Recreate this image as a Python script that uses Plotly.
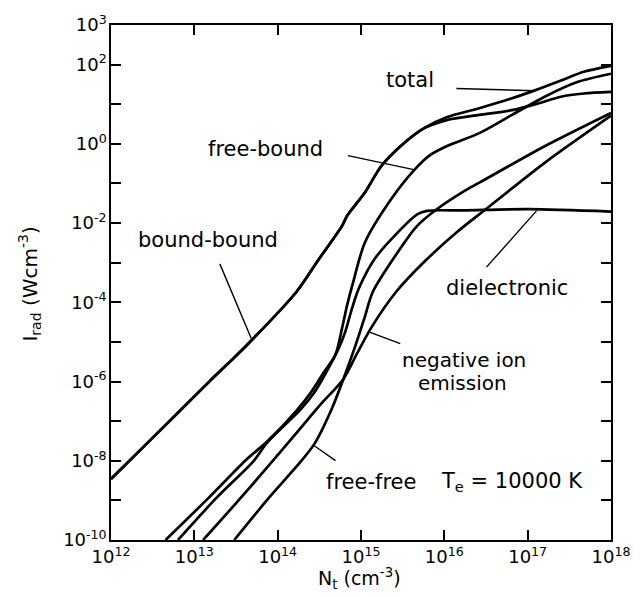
import numpy as np
import plotly.graph_objects as go

# ---- data (log10 values) ----
# bound-bound and total coincide at low density
bb_logn = [12.0, 12.341, 13.185, 13.635, 14.224, 14.498, 14.773, 14.832, 15.047, 15.244, 15.518, 15.753,
           16.027, 16.42, 16.812, 17.126, 17.4, 17.674, 18.0]
bb_logi = [-8.46, -7.75, -5.99, -5.07, -3.74, -2.90, -2.07, -1.82, -1.23, -0.56, 0.02, 0.39,
           0.60, 0.73, 0.85, 1.02, 1.19, 1.27, 1.31]

total_logn = [12.0, 12.341, 13.185, 13.635, 14.224, 14.498, 14.773, 14.832, 15.047, 15.244, 15.518, 15.753,
              16.027, 16.42, 16.812, 17.086, 17.4, 17.674, 18.0]
total_logi = [-8.46, -7.75, -5.99, -5.07, -3.74, -2.90, -2.07, -1.82, -1.23, -0.56, 0.02, 0.39,
              0.67, 0.90, 1.15, 1.35, 1.60, 1.82, 1.97]

fb_logn = [12.655, 13.165, 13.635, 13.871, 14.224, 14.4, 14.553, 14.694, 14.776, 14.835, 14.906, 15.047,
           15.361, 15.635, 15.832, 16.027, 16.42, 16.812, 17.204, 17.596, 18.0]
fb_logi = [-10.0, -8.95, -7.95, -7.52, -6.74, -6.27, -5.77, -5.32, -4.62, -4.06, -3.49, -2.49,
           -1.40, -0.67, -0.28, -0.06, 0.27, 0.73, 1.19, 1.56, 1.77]

diel_logn = [12.804, 13.282, 13.714, 13.871, 14.282, 14.435, 14.576, 14.733, 14.812, 14.891, 14.976, 15.165,
             15.439, 15.674, 15.792, 16.224, 17.008, 18.0]
diel_logi = [-10.0, -8.90, -8.0, -7.55, -6.69, -6.29, -5.79, -5.16, -4.74, -4.16, -3.64, -2.90,
             -2.24, -1.78, -1.69, -1.68, -1.65, -1.71]

neg_logn = [13.106, 13.459, 13.812, 14.224, 14.518, 14.788, 14.953, 15.129, 15.42, 15.753, 16.145, 16.498,
            17.204, 18.0]
neg_logi = [-10.0, -9.17, -8.32, -7.30, -6.57, -5.94, -5.29, -4.62, -3.74, -2.99, -2.24, -1.65,
            -0.48, 0.71]

ff_logn = [13.479, 13.909, 14.224, 14.439, 14.655, 14.788, 14.929, 15.047, 15.141, 15.439, 15.674, 15.909,
           16.224, 16.42, 17.204, 18.0]
ff_logi = [-10.0, -8.90, -8.15, -7.58, -6.66, -5.94, -5.12, -4.36, -3.74, -2.74, -2.07, -1.65,
           -1.21, -0.98, -0.06, 0.78]

# label pointer lines: (logN start, logI start, logN end, logI end)
pointer_total = [16.145, 1.397, 17.086, 1.339]
pointer_fb = [14.843, -0.299, 15.647, -0.657]
pointer_bb = [13.306, -3.03, 13.682, -4.908]
pointer_diel = [16.506, -3.112, 17.106, -1.692]
pointer_neg = [15.471, -5.041, 15.086, -4.74]
pointer_ff = [14.694, -7.997, 14.439, -7.621]

x_tick_exp = [12, 13, 14, 15, 16, 17, 18]
y_tick_exp = list(range(-10, 4))
y_label_exp = [3, 2, 0, -2, -4, -6, -8, -10]

FONT = "DejaVu Sans"

fig = go.Figure()
for ln, li in [(bb_logn, bb_logi), (total_logn, total_logi), (fb_logn, fb_logi),
               (diel_logn, diel_logi), (neg_logn, neg_logi), (ff_logn, ff_logi)]:
    fig.add_trace(go.Scatter(x=np.power(10.0, ln), y=np.power(10.0, li), mode="lines",
                             line=dict(color="black", width=2.7, shape="spline", smoothing=0.8),
                             showlegend=False, hoverinfo="skip"))

for p in [pointer_total, pointer_fb, pointer_bb, pointer_diel, pointer_neg, pointer_ff]:
    fig.add_trace(go.Scatter(x=np.power(10.0, [p[0], p[2]]), y=np.power(10.0, [p[1], p[3]]),
                             mode="lines", line=dict(color="black", width=1.4),
                             showlegend=False, hoverinfo="skip"))

labels = [
    ("total", 0.598, 0.893, "center", 21),
    ("free-bound", 0.308, 0.760, "center", 21),
    ("bound-bound", 0.194, 0.583, "center", 21),
    ("dielectronic", 0.792, 0.490, "center", 21),
    ("negative ion", 0.706, 0.350, "center", 20),
    ("emission", 0.702, 0.305, "center", 20),
    ("free-free", 0.520, 0.112, "center", 21),
    ("T<sub>e</sub> = 10000 K", 0.657, 0.112, "left", 21),
]
for txt, px, py, xa, fs in labels:
    fig.add_annotation(text=txt, x=px, y=py, xref="paper", yref="paper", showarrow=False,
                       xanchor=xa, yanchor="middle", borderpad=0,
                       font=dict(family=FONT, size=fs, color="black"))

# axis titles
fig.add_annotation(text="I<sub>rad</sub> (Wcm<sup>-3</sup>)", x=-0.163, y=0.497, xref="paper", yref="paper",
                   showarrow=False, textangle=-90, xanchor="center", yanchor="middle",
                   font=dict(family=FONT, size=20, color="black"))
fig.add_annotation(text="N<sub>t</sub> (cm<sup>-3</sup>)", x=0.496, y=-0.075, xref="paper", yref="paper",
                   showarrow=False, xanchor="center", yanchor="middle", borderpad=0,
                   font=dict(family=FONT, size=19, color="black"))

axis_common = dict(type="log", showgrid=False, zeroline=False, showline=True, linecolor="black",
                   linewidth=1.5, mirror="allticks", ticks="inside", ticklen=10, tickwidth=1.5,
                   tickcolor="black", tickfont=dict(family=FONT, size=18, color="black"))

fig.update_layout(
    width=642, height=597,
    margin=dict(l=111, r=21, t=21, b=57),
    paper_bgcolor="white", plot_bgcolor="white",
    xaxis=dict(range=[12, 18],
               tickvals=[10.0 ** k for k in x_tick_exp],
               ticktext=[f"10<sup>{k}</sup>" for k in x_tick_exp], **axis_common),
    yaxis=dict(range=[-10, 3],
               tickvals=[10.0 ** k for k in y_tick_exp],
               ticktext=[(f"10<sup>{k}</sup>" if k in y_label_exp else "") for k in y_tick_exp],
               ticklabelstandoff=-1, **axis_common),
)

fig.write_html("out.html")
